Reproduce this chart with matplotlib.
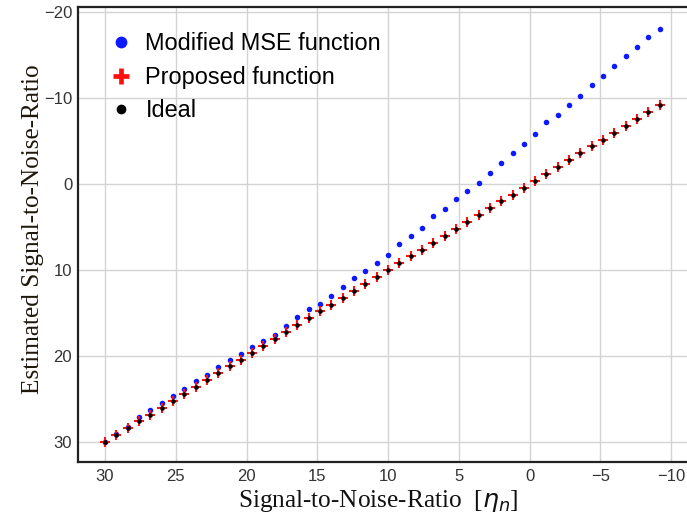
import matplotlib
matplotlib.use('Agg')
import matplotlib.pyplot as plt
from matplotlib.lines import Line2D

# true SNR values (x axis), step 0.8 dB from 30 down to -9.2
snr_true = [30.0, 29.2, 28.4, 27.6, 26.8, 26.0, 25.2, 24.4, 23.6, 22.8,
            22.0, 21.2, 20.4, 19.6, 18.8, 18.0, 17.2, 16.4, 15.6, 14.8,
            14.0, 13.2, 12.4, 11.6, 10.8, 10.0, 9.2, 8.4, 7.6, 6.8,
            6.0, 5.2, 4.4, 3.6, 2.8, 2.0, 1.2, 0.4, -0.4, -1.2,
            -2.0, -2.8, -3.6, -4.4, -5.2, -6.0, -6.8, -7.6, -8.4, -9.2]

# estimates
snr_mse = [29.95, 29.1, 28.3, 27.1, 26.3, 25.45, 24.7, 23.85, 22.95, 22.25,
           21.3, 20.45, 19.75, 19.0, 18.2, 17.5, 16.45, 15.4, 14.5, 13.95,
           13.0, 11.95, 10.95, 10.05, 9.15, 8.2, 7.0, 6.0, 5.15, 3.75,
           2.85, 1.75, 0.75, -0.1, -1.35, -2.5, -3.6, -4.7, -5.85, -7.2,
           -8.0, -9.25, -10.3, -11.5, -12.65, -13.75, -14.9, -15.95, -17.1, -18.1]

snr_proposed = [30.0, 29.2, 28.4, 27.6, 26.8, 26.0, 25.2, 24.4, 23.6, 22.8,
                22.0, 21.2, 20.4, 19.6, 18.8, 18.0, 17.2, 16.4, 15.6, 14.8,
                14.0, 13.2, 12.4, 11.6, 10.8, 10.0, 9.2, 8.4, 7.6, 6.8,
                6.0, 5.2, 4.4, 3.6, 2.8, 2.0, 1.2, 0.4, -0.4, -1.2,
                -2.0, -2.8, -3.6, -4.4, -5.2, -6.0, -6.8, -7.6, -8.4, -9.2]

snr_ideal = list(snr_true)

xticks = [30, 25, 20, 15, 10, 5, 0, -5, -10]
yticks = [-20, -10, 0, 10, 20, 30]
labels = ['Modified MSE function', 'Proposed function', 'Ideal']

blue = '#0d1aff'
red = '#ff1010'

fig = plt.figure(figsize=(6.87, 5.23), dpi=100)
ax = fig.add_axes([0.1131, 0.1172, 0.8869, 0.8694])

ax.plot(snr_true, snr_mse, 'o', color=blue, ms=4.0, mew=0, zorder=3)
ax.plot(snr_true, snr_proposed, '+', color=red, ms=7.5, mew=1.5, zorder=4)
ax.plot(snr_true, snr_ideal, 'o', color='black', ms=3.3, mew=0, zorder=5)

ax.set_xlim(31.93, -11.13)
ax.set_ylim(32.29, -20.62)
ax.set_xticks(xticks)
ax.set_yticks(yticks)
ax.set_xticklabels([str(t).replace('-', '\u2212') for t in xticks])
ax.set_yticklabels([str(t).replace('-', '\u2212') for t in yticks])

ax.grid(True, color='#d3d3d3', lw=1.0)
ax.set_axisbelow(True)
ax.tick_params(length=0, labelsize=12, labelcolor='#333333',
               labelfontfamily='Liberation Sans')
ax.tick_params(axis='x', pad=5)
ax.tick_params(axis='y', pad=4)

for side in ['left', 'bottom', 'top']:
    ax.spines[side].set_color('#222222')
    ax.spines[side].set_linewidth(1.6)
ax.spines['right'].set_visible(False)

ax.set_xlabel(r'Signal-to-Noise-Ratio  [$\eta_n$]', family='Liberation Serif',
              fontsize=18.2, color='#111111')
ax.set_ylabel('Estimated Signal-to-Noise-Ratio', family='Liberation Serif',
              fontsize=18.2, color='#1e170c')
ax.xaxis.set_label_coords(0.4926, -0.057)
ax.yaxis.set_label_coords(-0.056, 0.512)

handles = [
    Line2D([], [], ls='none', marker='o', color=blue, ms=8.5, mew=0),
    Line2D([], [], ls='none', marker='+', color=red, ms=11.5, mew=3.4),
    Line2D([], [], ls='none', marker='o', color='black', ms=7, mew=0),
]
ax.legend(handles, labels, loc='upper left', bbox_to_anchor=(0.036, 0.965),
          borderaxespad=0, frameon=False, handlelength=1.0, handletextpad=0.55,
          labelspacing=0.45, prop={'family': 'Liberation Sans', 'size': 16.9})

fig.savefig('out.png', dpi=100)
